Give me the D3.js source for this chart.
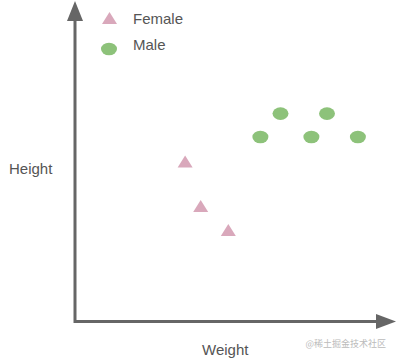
<!DOCTYPE html>
<html><head><meta charset="utf-8">
<script src="https://cdn.jsdelivr.net/npm/d3@7"></script>
<style>html,body{margin:0;padding:0;background:#fff;}svg{display:block;}</style>
</head><body>
<script>
// Data (weight, height) in arbitrary units
const femaleWeight = [36.7, 41.9, 51.1];
const femaleHeight = [53.3, 38.5, 30.5];
const maleWeight = [68.5, 84, 61.8, 78.8, 94.3];
const maleHeight = [69.3, 69.3, 61.5, 61.5, 61.5];
const legendLabels = ["Female", "Male"];
const axisLabels = {x: "Weight", y: "Height"};

const W = 396, H = 358;
const svg = d3.select("body").append("svg").attr("width", W).attr("height", H);
const x = d3.scaleLinear().domain([0, 100]).range([75, 375]);
const y = d3.scaleLinear().domain([0, 100]).range([321.5, 21.5]);

const axisColor = "#666";
const pink = "#d9a8bb", green = "#8dc27a", textColor = "#555";

// axes
svg.append("line").attr("x1", x(0)).attr("x2", 378).attr("y1", y(0)).attr("y2", y(0))
  .attr("stroke", axisColor).attr("stroke-width", 3);
svg.append("line").attr("x1", x(0)).attr("x2", x(0)).attr("y1", y(0) + 1.5).attr("y2", 18)
  .attr("stroke", axisColor).attr("stroke-width", 3);
svg.append("path").attr("d", `M376,${y(0)-7.5}L396,${y(0)}L376,${y(0)+7.5}Z`).attr("fill", axisColor);
svg.append("path").attr("d", `M${x(0)-8},21L${x(0)},1L${x(0)+8},21Z`).attr("fill", axisColor);

function tri(cx, cy) { return `M${cx-7.5},${cy+6}L${cx},${cy-6}L${cx+7.5},${cy+6}Z`; }

svg.selectAll(".f").data(femaleWeight).enter().append("path")
  .attr("d", (d, i) => tri(x(d), y(femaleHeight[i]))).attr("fill", pink);
svg.selectAll(".m").data(maleWeight).enter().append("ellipse")
  .attr("cx", d => x(d)).attr("cy", (d, i) => y(maleHeight[i])).attr("rx", 8).attr("ry", 6.3)
  .attr("fill", green);

// legend
svg.append("path").attr("d", tri(109.5, 18)).attr("fill", pink);
svg.append("ellipse").attr("cx", 109).attr("cy", 49).attr("rx", 8).attr("ry", 6.3).attr("fill", green);
svg.append("text").attr("x", 133).attr("y", 24).text(legendLabels[0])
  .attr("font-family", "Liberation Sans, Arial, sans-serif").attr("font-size", 15).attr("fill", textColor);
svg.append("text").attr("x", 133).attr("y", 50).text(legendLabels[1])
  .attr("font-family", "Liberation Sans, Arial, sans-serif").attr("font-size", 15).attr("fill", textColor);

svg.append("text").attr("x", 9).attr("y", 174).text(axisLabels.y)
  .attr("font-family", "Liberation Sans, Arial, sans-serif").attr("font-size", 15).attr("fill", textColor);
svg.append("text").attr("x", 202).attr("y", 355).text(axisLabels.x)
  .attr("font-family", "Liberation Sans, Arial, sans-serif").attr("font-size", 15).attr("fill", textColor);

svg.append("text").attr("x", 386).attr("y", 347).attr("text-anchor", "end").text("@稀土掘金技术社区")
  .attr("font-family", "Noto Sans CJK SC, sans-serif").attr("font-size", 9).attr("fill", "#bbb");
</script>
</body></html>
